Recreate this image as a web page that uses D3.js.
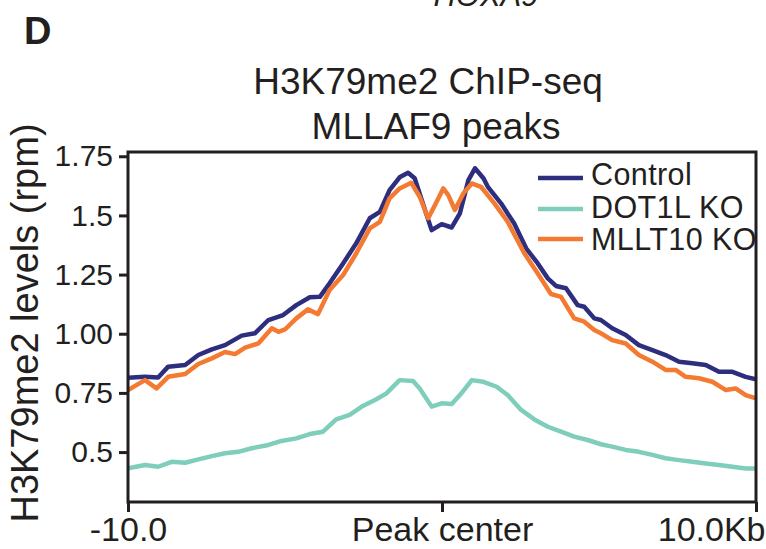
<!DOCTYPE html>
<html>
<head>
<meta charset="utf-8">
<script src="https://cdn.jsdelivr.net/npm/d3@7"></script>
<style>
  body { margin: 0; background: #fff; }
  svg text { font-family: "Liberation Sans", Arial, sans-serif; fill: #231f20; }
</style>
</head>
<body>
<div id="svg-container"></div>
<script>
// positions in kb from the peak center, values in rpm
const controlPos = [-10, -9.46, -9.04, -8.72, -8.18, -7.76, -7.33, -6.91, -6.38, -5.96, -5.53, -5.06, -4.64, -4.21, -3.89, -3.58, -3.15, -2.73, -2.3, -1.98, -1.67, -1.35, -1.08, -0.87, -0.61, -0.33, -0.01, 0.31, 0.57, 0.84, 1.05, 1.32, 1.46, 1.88, 2.3, 2.68, 3.05, 3.37, 3.63, 3.95, 4.32, 4.53, 4.85, 5.06, 5.42, 5.85, 6.27, 6.7, 7.12, 7.55, 7.97, 8.4, 8.82, 9.25, 9.67, 10];
const controlVal = [0.814, 0.818, 0.815, 0.861, 0.868, 0.91, 0.934, 0.952, 0.992, 1.002, 1.058, 1.079, 1.121, 1.154, 1.156, 1.213, 1.297, 1.382, 1.488, 1.515, 1.607, 1.661, 1.68, 1.657, 1.551, 1.438, 1.463, 1.449, 1.509, 1.649, 1.699, 1.657, 1.621, 1.551, 1.466, 1.361, 1.297, 1.234, 1.202, 1.192, 1.121, 1.114, 1.065, 1.058, 1.023, 0.995, 0.952, 0.931, 0.91, 0.882, 0.875, 0.868, 0.839, 0.839, 0.818, 0.807];

const dot1lPos = [-10, -9.46, -9.04, -8.61, -8.18, -7.76, -7.33, -6.91, -6.49, -6.06, -5.53, -5.11, -4.64, -4.21, -3.79, -3.37, -2.94, -2.52, -2.09, -1.77, -1.35, -0.92, -0.71, -0.33, -0.01, 0.31, 0.57, 0.95, 1.32, 1.74, 2.09, 2.52, 2.94, 3.37, 3.79, 4.21, 4.64, 5.06, 5.42, 5.85, 6.27, 6.7, 7.12, 7.55, 7.97, 8.4, 8.82, 9.25, 9.67, 10];
const dot1lVal = [0.431, 0.445, 0.438, 0.459, 0.455, 0.469, 0.483, 0.495, 0.501, 0.516, 0.53, 0.547, 0.558, 0.576, 0.586, 0.638, 0.657, 0.695, 0.723, 0.748, 0.804, 0.8, 0.769, 0.692, 0.706, 0.703, 0.741, 0.804, 0.797, 0.776, 0.741, 0.678, 0.638, 0.607, 0.586, 0.565, 0.551, 0.533, 0.523, 0.509, 0.501, 0.488, 0.474, 0.466, 0.459, 0.452, 0.445, 0.438, 0.431, 0.431];

const mllt10Pos = [-10, -9.46, -9.09, -8.72, -8.18, -7.76, -7.33, -6.91, -6.59, -6.27, -5.85, -5.42, -5.21, -5.0, -4.64, -4.27, -3.95, -3.58, -3.15, -2.73, -2.3, -1.98, -1.67, -1.35, -0.98, -0.71, -0.44, -0.17, 0.04, 0.2, 0.41, 0.68, 0.95, 1.24, 1.67, 2.09, 2.62, 3.05, 3.47, 3.79, 4.21, 4.53, 4.85, 5.06, 5.42, 5.85, 6.27, 6.7, 7.12, 7.44, 7.76, 8.18, 8.61, 9.04, 9.35, 9.67, 10];
const mllt10Val = [0.762, 0.804, 0.769, 0.818, 0.83, 0.872, 0.896, 0.923, 0.914, 0.941, 0.959, 1.023, 1.008, 1.018, 1.065, 1.103, 1.083, 1.185, 1.248, 1.34, 1.445, 1.473, 1.572, 1.614, 1.638, 1.579, 1.488, 1.558, 1.614, 1.586, 1.523, 1.593, 1.635, 1.621, 1.551, 1.473, 1.34, 1.255, 1.168, 1.156, 1.065, 1.051, 1.016, 1.002, 0.973, 0.959, 0.91, 0.882, 0.847, 0.847, 0.818, 0.812, 0.797, 0.762, 0.769, 0.741, 0.727];

const seriesNames = ["Control", "DOT1L KO", "MLLT10 KO"];
const seriesColors = ["#2e2e7e", "#7fcebb", "#f37a30"];

const yTicks = [0.5, 0.75, 1.0, 1.25, 1.5, 1.75];
const yTickLabels = ["0.5", "0.75", "1.00", "1.25", "1.5", "1.75"];
const xTicks = [-10, 0, 10];
const xTickLabels = ["-10.0", "Peak center", "10.0Kb"];

const svg = d3.select("#svg-container")
    .append("svg")
    .attr("width", 766)
    .attr("height", 549);

const plotLeft = 128, plotRight = 756, plotTop = 152, plotBottom = 502;

const x = d3.scaleLinear().domain([-10, 10]).range([plotLeft, plotRight]);
const y = d3.scaleLinear().domain([0.289, 1.768]).range([plotBottom, plotTop]);

// panel letter and the cut-off label from the panel above
svg.append("text")
    .attr("x", 24).attr("y", 44)
    .attr("font-size", 38).attr("font-weight", "bold")
    .text("D");

svg.append("text")
    .attr("x", 486).attr("y", 6)
    .attr("text-anchor", "middle")
    .attr("font-size", 31).attr("font-style", "italic")
    .text("HOXA9");

// title
svg.append("text")
    .attr("x", 428).attr("y", 94)
    .attr("text-anchor", "middle")
    .attr("font-size", 37)
    .text("H3K79me2 ChIP-seq");

svg.append("text")
    .attr("x", 436).attr("y", 139)
    .attr("text-anchor", "middle")
    .attr("font-size", 37)
    .text("MLLAF9 peaks");

// y label
svg.append("text")
    .attr("transform", "translate(38, 323) rotate(-90)")
    .attr("text-anchor", "middle")
    .attr("font-size", 38)
    .text("H3K79me2 levels (rpm)");

// lines
const line = d3.line()
    .x(d => x(d[0]))
    .y(d => y(d[1]));

const series = [
    d3.zip(controlPos, controlVal),
    d3.zip(dot1lPos, dot1lVal),
    d3.zip(mllt10Pos, mllt10Val)
];

svg.append("clipPath").attr("id", "plot-clip")
    .append("rect")
    .attr("x", plotLeft).attr("y", plotTop)
    .attr("width", plotRight - plotLeft).attr("height", plotBottom - plotTop);

const plot = svg.append("g").attr("clip-path", "url(#plot-clip)");

series.forEach((s, i) => {
    plot.append("path")
        .attr("d", line(s))
        .attr("fill", "none")
        .attr("stroke", seriesColors[i])
        .attr("stroke-width", 4.5)
        .attr("stroke-linejoin", "round");
});

// legend
const legend = plot.append("g");
const legendLineY = [178, 209, 239];
const legendTextY = [185, 218, 250];
seriesNames.forEach((name, i) => {
    legend.append("line")
        .attr("x1", 538).attr("x2", 583)
        .attr("y1", legendLineY[i]).attr("y2", legendLineY[i])
        .attr("stroke", seriesColors[i])
        .attr("stroke-width", 4.5);
    legend.append("text")
        .attr("x", 591).attr("y", legendTextY[i])
        .attr("font-size", 30.5)
        .attr("letter-spacing", 0.4)
        .text(name);
});

// frame
svg.append("rect")
    .attr("x", plotLeft).attr("y", plotTop)
    .attr("width", plotRight - plotLeft).attr("height", plotBottom - plotTop)
    .attr("fill", "none")
    .attr("stroke", "#231f20")
    .attr("stroke-width", 3);

// axes
const yAxis = svg.append("g")
    .attr("transform", `translate(${plotLeft},0)`)
    .call(d3.axisLeft(y)
        .tickValues(yTicks)
        .tickSize(9)
        .tickPadding(6)
        .tickFormat((d, i) => yTickLabels[i]));

const xAxis = svg.append("g")
    .attr("transform", `translate(0,${plotBottom})`)
    .call(d3.axisBottom(x)
        .tickValues(xTicks)
        .tickSize(10)
        .tickPadding(5)
        .tickFormat((d, i) => xTickLabels[i]));

[yAxis, xAxis].forEach(a => {
    a.select(".domain").remove();
    a.selectAll(".tick line").attr("stroke", "#231f20").attr("stroke-width", 3);
    a.selectAll(".tick text")
        .attr("fill", "#231f20")
        .attr("font-family", "Liberation Sans, Arial, sans-serif");
});
yAxis.selectAll(".tick text").attr("font-size", 30);
xAxis.selectAll(".tick text").attr("font-size", 34);
xAxis.selectAll(".tick text").filter((d, i) => i === 2)
    .attr("text-anchor", "end")
    .attr("x", 9);
</script>
</body>
</html>
